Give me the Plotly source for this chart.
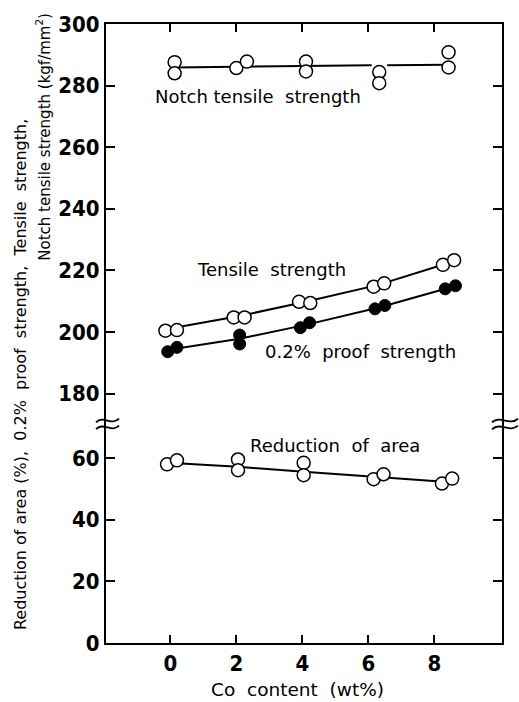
import plotly.graph_objects as go

# ---------------- data ----------------
# Notch tensile strength (kgf/mm2) - open circles
notch_x = [0.13, 0.13, 2.0, 2.32, 4.11, 4.11, 6.33, 6.33, 8.43, 8.43]
notch_y = [287.6, 284.0, 285.7, 287.8, 287.8, 284.6, 284.4, 280.8, 290.8, 285.9]
notch_line_x = [0.13, 6.1, None, 6.57, 8.43]
notch_line_y = [285.9, 286.6, None, 286.6, 286.8]

# Tensile strength (kgf/mm2) - open circles
tensile_x = [-0.15, 0.2, 1.92, 2.25, 3.9, 4.24, 6.16, 6.48, 8.26, 8.6]
tensile_y = [200.4, 200.6, 204.7, 204.7, 209.8, 209.4, 214.7, 215.8, 221.8, 223.3]
tensile_line_x = [0.2, 2.1, 4.1, 6.3, 8.4]
tensile_line_y = [201.5, 205.2, 209.8, 215.3, 222.3]

# 0.2% proof strength (kgf/mm2) - filled circles
proof_x = [-0.08, 0.2, 2.1, 2.1, 3.94, 4.22, 6.2, 6.5, 8.33, 8.64]
proof_y = [193.6, 195.0, 199.0, 196.1, 201.4, 203.0, 207.5, 208.6, 214.0, 215.0]
proof_line_x = [0.1, 2.1, 4.1, 6.35, 8.5]
proof_line_y = [194.5, 197.8, 202.3, 208.0, 214.5]

# Reduction of area (%) - open circles
roa_x = [-0.1, 0.2, 2.05, 2.05, 4.04, 4.04, 6.16, 6.46, 8.23, 8.54]
roa_y = [57.9, 59.2, 59.5, 56.0, 58.4, 54.4, 53.1, 54.7, 51.7, 53.3]
roa_line_x = [0.2, 2.05, 4.04, 6.3, 8.4]
roa_line_y = [58.3, 57.1, 55.5, 53.7, 52.2]

x_ticks = [0, 2, 4, 6, 8]
upper_ticks = [180, 200, 220, 240, 260, 280, 300]
lower_ticks = [0, 20, 40, 60]

# ---------------- figure ----------------
W, H = 519, 702
ML, MR, MT, MB = 106, 17, 17, 59
PW, PH = W - ML - MR, H - MT - MB
BREAK = 0.3562

tick_font = dict(family="Liberation Sans Narrow, DejaVu Sans Condensed, Arial", size=22,
                 color="black", weight="bold")
text_font = dict(family="DejaVu Sans, Arial", size=18, color="black")

open_marker = dict(symbol="circle", size=13, color="white", line=dict(color="black", width=1.5))
fill_marker = dict(symbol="circle", size=12, color="black", line=dict(color="black", width=1))
line_style = dict(color="black", width=2)

fig = go.Figure()

# lines first
fig.add_trace(go.Scatter(x=notch_line_x, y=notch_line_y, mode="lines", line=line_style,
                         xaxis="x2", yaxis="y2", showlegend=False, connectgaps=False))
fig.add_trace(go.Scatter(x=tensile_line_x, y=tensile_line_y, mode="lines", line=line_style,
                         xaxis="x2", yaxis="y2", showlegend=False))
fig.add_trace(go.Scatter(x=proof_line_x, y=proof_line_y, mode="lines", line=line_style,
                         xaxis="x2", yaxis="y2", showlegend=False))
fig.add_trace(go.Scatter(x=roa_line_x, y=roa_line_y, mode="lines", line=line_style,
                         xaxis="x", yaxis="y", showlegend=False))
# markers
fig.add_trace(go.Scatter(x=notch_x, y=notch_y, mode="markers", marker=open_marker,
                         xaxis="x2", yaxis="y2", showlegend=False))
fig.add_trace(go.Scatter(x=tensile_x, y=tensile_y, mode="markers", marker=open_marker,
                         xaxis="x2", yaxis="y2", showlegend=False))
fig.add_trace(go.Scatter(x=proof_x, y=proof_y, mode="markers", marker=fill_marker,
                         xaxis="x2", yaxis="y2", showlegend=False))
fig.add_trace(go.Scatter(x=roa_x, y=roa_y, mode="markers", marker=open_marker,
                         xaxis="x", yaxis="y", showlegend=False))

xr = [-1.95, 10.05]
common_axis = dict(showgrid=False, zeroline=False, showline=True, linecolor="black",
                   linewidth=2, ticks="inside", tickcolor="black", tickwidth=1.5)

fig.update_layout(
    width=W, height=H,
    margin=dict(l=ML, r=MR, t=MT, b=MB, pad=0),
    paper_bgcolor="white", plot_bgcolor="white",
    xaxis=dict(common_axis, domain=[0, 1], range=xr, anchor="y", side="bottom",
               tickvals=x_ticks, ticklen=8, tickfont=tick_font, ticklabelstandoff=0),
    xaxis2=dict(common_axis, domain=[0, 1], range=xr, anchor="y2", side="top",
                tickvals=x_ticks, ticklen=8, showticklabels=False),
    yaxis=dict(common_axis, domain=[0, BREAK], range=[0, 71.47], anchor="x",
               tickvals=lower_ticks, ticklen=9, mirror="ticks", tickfont=tick_font,
               ticklabelstandoff=0),
    yaxis2=dict(common_axis, domain=[BREAK, 1], range=[170.6, 300], anchor="x2",
                tickvals=upper_ticks, ticklen=9, mirror="ticks", tickfont=tick_font,
                ticklabelstandoff=0),
)

def px2paper(px, py):
    return (px - ML) / PW, (H - MB - py) / PH

ann = dict(showarrow=False, xanchor="center", yanchor="middle")

# series labels
fig.add_annotation(x=2.67, y=276.6, xref="x2", yref="y2", text="Notch tensile  strength",
                   font=text_font, **ann)
fig.add_annotation(x=3.06, y=220.4, xref="x2", yref="y2", text="Tensile  strength",
                   font=text_font, **ann)
fig.add_annotation(x=5.77, y=193.7, xref="x2", yref="y2", text="0.2%  proof  strength",
                   font=text_font, **ann)
fig.add_annotation(x=5.0, y=64.1, xref="x", yref="y", text="Reduction  of  area",
                   font=text_font, **ann)

# axis titles
ax, ay = px2paper(297, 690)
fig.add_annotation(x=ax, y=ay, xref="paper", yref="paper", text="Co  content  (wt%)",
                   font=dict(text_font, size=18.5), **ann)
ax, ay = px2paper(20, 372)
fig.add_annotation(x=ax, y=ay, xref="paper", yref="paper", textangle=-90,
                   text="Reduction of area (%),  0.2%  proof  strength,  Tensile  strength,",
                   font=dict(text_font, size=16), **ann)
ax, ay = px2paper(43, 131)
fig.add_annotation(x=ax, y=ay, xref="paper", yref="paper", textangle=-90,
                   text="Notch tensile strength (kgf/mm<sup>2</sup>)",
                   font=dict(text_font, size=15), **ann)

# axis-break marks
def wave(px0, px1, py):
    x0, y0 = px2paper(px0, py)
    x1, _ = px2paper(px1, py)
    a = 3.0 / PH
    w = x1 - x0
    return (f"M {x0},{y0 - a * 0.6} C {x0 + w / 3},{y0 + 2 * a} "
            f"{x0 + 2 * w / 3},{y0 - 2 * a} {x1},{y0 + a * 0.6}")

for (p0, p1) in [(96, 119), (492, 518)]:
    for py in (418, 425):
        fig.add_shape(type="path", path=wave(p0, p1, py), xref="paper", yref="paper",
                      line=dict(color="black", width=1.8))

fig.write_html("out.html")
